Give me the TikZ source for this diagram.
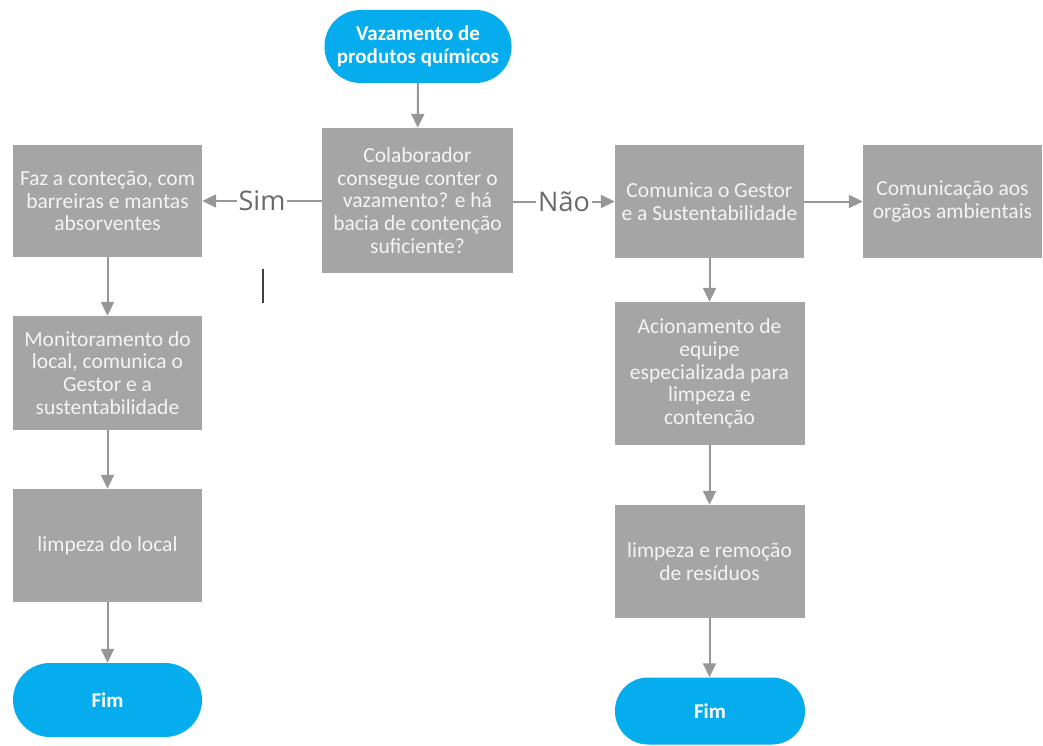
\documentclass[tikz,border=0pt]{standalone}
\usepackage{fontspec}
\setmainfont{Carlito}
\newfontfamily\labelfont{Open Sans}
\usetikzlibrary{arrows.meta}
\definecolor{boxgray}{HTML}{A5A5A5}
\definecolor{linegray}{HTML}{979797}
\definecolor{termblue}{HTML}{06ADEE}
\definecolor{boxtext}{HTML}{F4F4F4}
\definecolor{labelgray}{HTML}{6A6A6A}
\tikzset{
  stepbox/.style={rectangle, fill=boxgray, text=boxtext, align=center,
    inner sep=0pt, font=\fontsize{21.5}{22.8}\selectfont},
  terminal/.style={rectangle, fill=termblue, text=white, align=center,
    inner sep=0pt, font=\fontsize{21}{22.8}\selectfont\bfseries},
  flow/.style={draw=linegray, line width=2pt,
    -{Triangle[length=14pt,width=13pt]}},
  branch/.style={fill=white, text=labelgray, inner sep=2pt,
    font=\labelfont\fontsize{27}{29}\selectfont}
}
\begin{document}
\begin{tikzpicture}[x=1pt, y=-1pt]
  \useasboundingbox (0,0) rectangle (1043,746);

  % start terminal and decision
  \node[terminal, minimum width=187pt, minimum height=73pt, rounded corners=36pt]
    (start) at (418,46.5) {Vazamento de\\produtos químicos};
  \node[stepbox, minimum width=191pt, minimum height=145pt]
    (decide) at (417.5,200.5) {Colaborador\\consegue conter o\\vazamento? e há\\bacia de contenção\\suficiente?};

  % "Sim" branch
  \node[stepbox, minimum width=189pt, minimum height=112pt]
    (contain) at (107.5,201) {Faz a conteção, com\\barreiras e mantas\\absorventes};
  \node[stepbox, minimum width=189pt, minimum height=114pt]
    (monitor) at (107.5,373) {Monitoramento do\\local, comunica o\\Gestor e a\\sustentabilidade};
  \node[stepbox, minimum width=189pt, minimum height=113pt]
    (cleanlocal) at (107.5,545.5) {limpeza do local};
  \node[terminal, minimum width=189pt, minimum height=74pt, rounded corners=37pt]
    (endleft) at (107.5,700) {Fim};

  % "Não" branch
  \node[stepbox, minimum width=189pt, minimum height=113pt]
    (notify) at (709.5,201.5) {Comunica o Gestor\\e a Sustentabilidade};
  \node[stepbox, minimum width=179pt, minimum height=112pt]
    (agencies) at (952.5,201.5) {Comunicação aos\\orgãos ambientais};
  \node[stepbox, minimum width=190pt, minimum height=143pt]
    (team) at (709.5,373.5) {Acionamento de\\equipe\\especializada para\\limpeza e\\contenção};
  \node[stepbox, minimum width=190pt, minimum height=113pt]
    (removal) at (709.5,561.5) {limpeza e remoção\\de resíduos};
  \node[terminal, minimum width=190pt, minimum height=67pt, rounded corners=33pt]
    (endright) at (710,711) {Fim};

  % connectors
  \draw[flow] (start) -- (decide);
  \draw[flow] (decide.west |- contain.east) -- node[branch] {Sim} (contain.east);
  \draw[flow] (decide.east |- notify.west) -- node[branch] {Não} (notify.west);
  \draw[flow] (notify.east) -- (agencies.west |- notify.east);
  \draw[flow] (contain) -- (monitor);
  \draw[flow] (monitor) -- (cleanlocal);
  \draw[flow] (cleanlocal) -- (endleft);
  \draw[flow] (notify) -- (team);
  \draw[flow] (team) -- (removal);
  \draw[flow] (removal.south) -- (removal.south |- endright.north);

  % text cursor mark
  \coordinate (caretTop) at (263,269);
  \coordinate (caretBottom) at (263,303);
  \draw[draw=black!75, line width=1.5pt] (caretTop) -- (caretBottom);
\end{tikzpicture}
\end{document}
